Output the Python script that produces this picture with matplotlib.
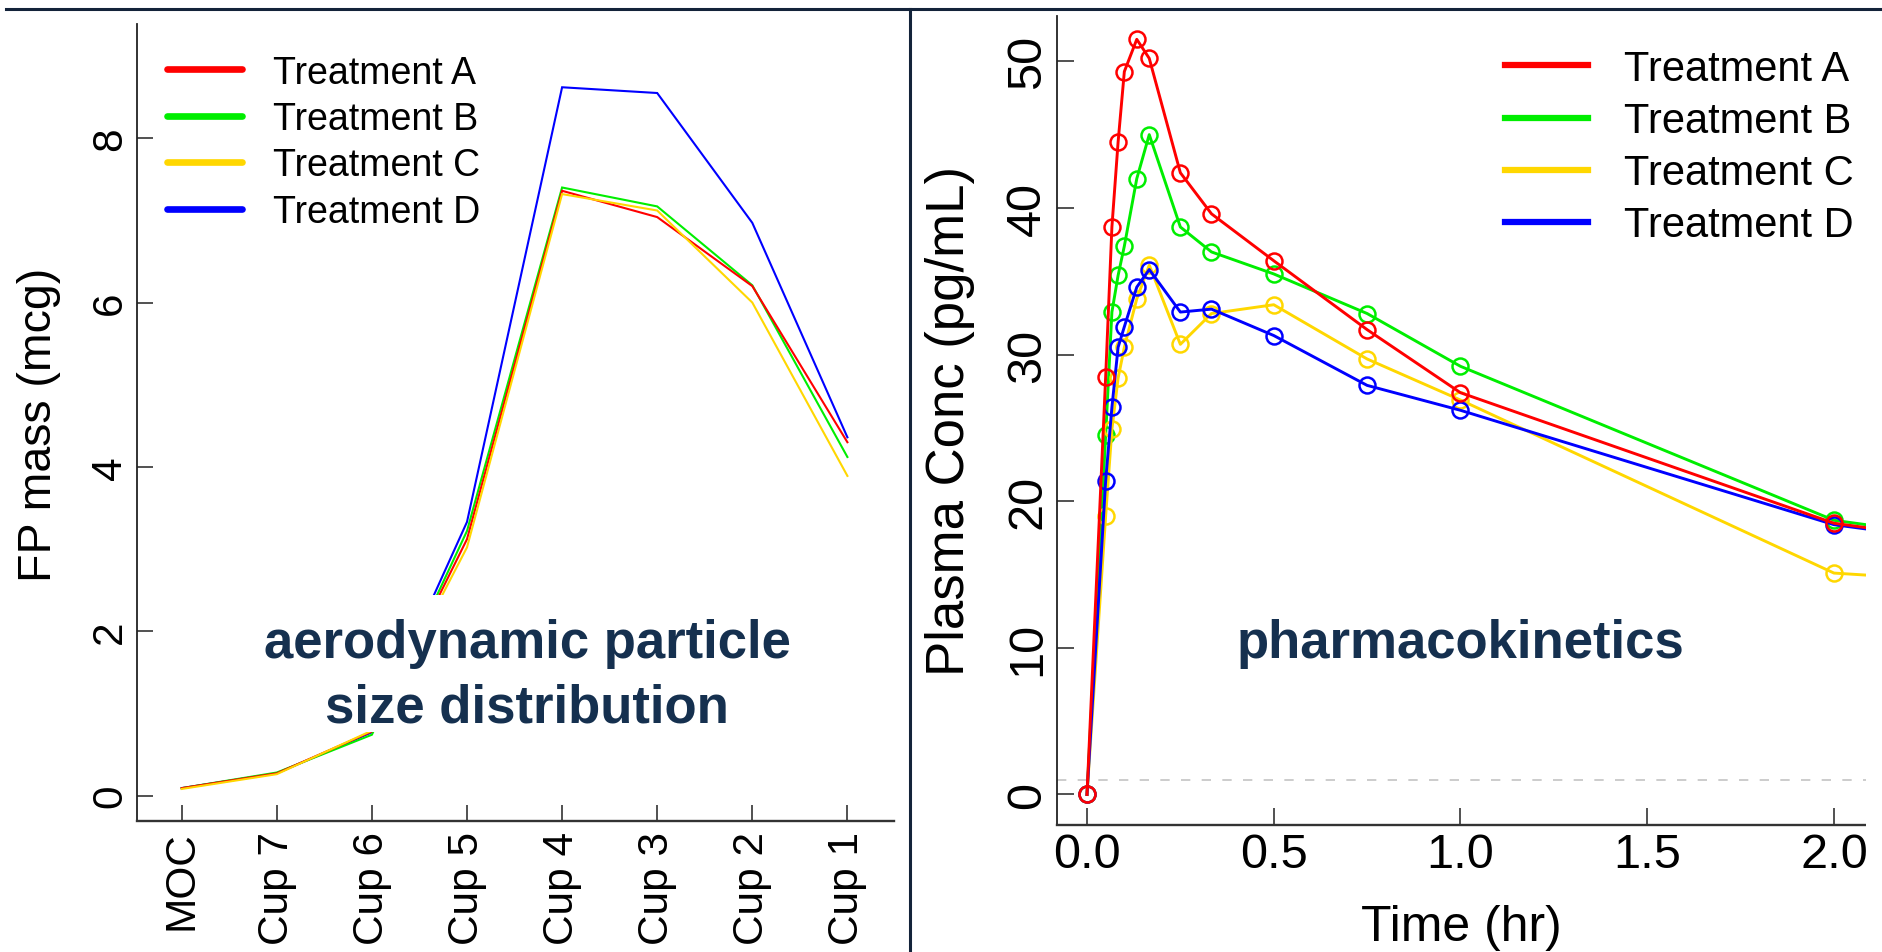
import matplotlib
matplotlib.use("Agg")
import matplotlib.pyplot as plt
from matplotlib.lines import Line2D
from matplotlib.patches import Rectangle

# ---------------- data ----------------
stages = ['MOC', 'Cup 7', 'Cup 6', 'Cup 5', 'Cup 4', 'Cup 3', 'Cup 2', 'Cup 1']
apsd_A = [0.09, 0.27, 0.78, 3.12, 7.36, 7.04, 6.20, 4.30]
apsd_B = [0.09, 0.28, 0.74, 3.22, 7.40, 7.17, 6.21, 4.12]
apsd_C = [0.08, 0.26, 0.79, 3.02, 7.32, 7.12, 6.00, 3.89]
apsd_D = [0.09, 0.27, 0.77, 3.33, 8.62, 8.55, 6.97, 4.36]

time_hr = [0, 0.05, 0.0667, 0.0833, 0.1, 0.1333, 0.1667, 0.25, 0.3333, 0.5, 0.75, 1.0, 2.0, 3.0]
pk_A = [0, 28.5, 38.7, 44.5, 49.3, 51.5, 50.2, 42.4, 39.6, 36.4, 31.7, 27.4, 18.5, 15.0]
pk_B = [0, 24.5, 32.9, 35.4, 37.4, 42.0, 45.0, 38.7, 37.0, 35.5, 32.8, 29.2, 18.7, 15.2]
pk_C = [0, 19.0, 24.9, 28.4, 30.5, 33.8, 36.1, 30.7, 32.8, 33.4, 29.7, 26.9, 15.1, 13.5]
pk_D = [0, 21.4, 26.4, 30.5, 31.9, 34.6, 35.8, 32.9, 33.1, 31.3, 27.9, 26.2, 18.4, 15.0]
lloq = 1.0

labels = ['Treatment A', 'Treatment B', 'Treatment C', 'Treatment D']
colors = {'Treatment A': '#FF0000', 'Treatment B': '#00EE00',
          'Treatment C': '#FFD700', 'Treatment D': '#0000FF'}

x_ticks_pk = [0.0, 0.5, 1.0, 1.5, 2.0]
y_ticks_apsd = [0, 2, 4, 6, 8]
y_ticks_pk = [0, 10, 20, 30, 40, 50]

# ---------------- figure ----------------
W, H = 1883, 953
plt.rcParams['font.family'] = ['Liberation Sans', 'DejaVu Sans']
fig = plt.figure(figsize=(W / 100, H / 100), dpi=100)
fig.patch.set_facecolor('white')


def fbox(x0, y0, x1, y1):
    return [x0 / W, 1 - y1 / H, (x1 - x0) / W, (y1 - y0) / H]


AX_COL = '#222222'
NAVY = '#15304f'


def style_axes(ax, tick_len, lab_size, xpad, ypad):
    for s in ['top', 'right']:
        ax.spines[s].set_visible(False)
    ax.spines['left'].set_color(AX_COL)
    ax.spines['left'].set_linewidth(1.3)
    ax.spines['bottom'].set_color('#333333')
    ax.spines['bottom'].set_linewidth(1.7)
    ax.tick_params(axis='both', direction='in', length=tick_len, width=1.1,
                   color=AX_COL, labelsize=lab_size, labelcolor='black')
    ax.tick_params(axis='x', pad=xpad)
    ax.tick_params(axis='y', pad=ypad, labelrotation=90)
    for lab in ax.get_yticklabels():
        lab.set_va('center')


# ---------------- left panel: APSD ----------------
axL = fig.add_axes(fbox(137, 25, 894, 822))
xs = list(range(len(stages)))
apsd = {'Treatment A': apsd_A, 'Treatment B': apsd_B,
        'Treatment C': apsd_C, 'Treatment D': apsd_D}
for name in ['Treatment D', 'Treatment B', 'Treatment A', 'Treatment C']:
    axL.plot(xs, apsd[name], color=colors[name], lw=1.5, solid_joinstyle='miter')
axL.set_xlim(-0.47, 7.49)
axL.set_ylim(-0.31, 9.39)
axL.set_xticks(xs)
axL.set_xticklabels(stages, rotation=90)
axL.set_yticks(y_ticks_apsd)
axL.set_yticklabels([str(v) for v in y_ticks_apsd])
style_axes(axL, 11.5, 30.5, 7, 5)
for lab in axL.get_xticklabels():
    lab.set_va('top')

handlesL = [Line2D([], [], color=colors[n], lw=4.8, solid_capstyle='round') for n in labels]
fig.legend(handlesL, labels, loc='upper left', bbox_to_anchor=(167 / W, 1 - 55.5 / H),
           frameon=False, fontsize=27, handlelength=2.0, handletextpad=0.83,
           labelspacing=0.28, borderpad=0, borderaxespad=0)

fig.text(39 / W, 1 - 425 / H, 'FP mass (mcg)', rotation=90, ha='center', va='center',
         fontsize=33.5, color='black')

# ---------------- right panel: PK ----------------
axR = fig.add_axes(fbox(1057, 17, 1866, 826))
pk = {'Treatment A': pk_A, 'Treatment B': pk_B, 'Treatment C': pk_C, 'Treatment D': pk_D}
axR.axhline(lloq, color='#c4c4c4', lw=1.2, dashes=(5.6, 6.8), zorder=1)
for name in ['Treatment B', 'Treatment C', 'Treatment D', 'Treatment A']:
    axR.plot(time_hr, pk[name], color=colors[name], lw=2.1, marker='o', ms=11.5,
             mfc='none', mew=1.8, zorder=2)
axR.set_xlim(-0.0803, 2.0857)
axR.set_ylim(-2.08, 53.09)
axR.set_xticks(x_ticks_pk)
axR.set_xticklabels(['%.1f' % v for v in x_ticks_pk])
axR.set_yticks(y_ticks_pk)
axR.set_yticklabels([str(v) for v in y_ticks_pk])
style_axes(axR, 12, 35, 5, 5)

handlesR = [Line2D([], [], color=colors[n], lw=4.5) for n in labels]
fig.legend(handlesR, labels, loc='upper left', bbox_to_anchor=(1505 / W, 1 - 50 / H),
           frameon=False, fontsize=30, handlelength=2.0, handletextpad=0.86,
           labelspacing=0.29, borderpad=0, borderaxespad=0)

fig.text(950 / W, 1 - 421 / H, 'Plasma Conc (pg/mL)', rotation=90, ha='center',
         va='center', fontsize=38, color='black')
fig.text(1461 / W, 1 - 941 / H, 'Time (hr)', ha='center', va='baseline',
         fontsize=36, color='black')

# ---------------- overlay annotations ----------------
fig.add_artist(Rectangle((250 / W, 1 - 733 / H), 550 / W, 137 / H,
                         transform=fig.transFigure, facecolor='white',
                         edgecolor='none', zorder=1))
fig.text(527 / W, 1 - 658 / H, 'aerodynamic particle', ha='center', va='baseline',
         fontsize=38, fontweight='bold', color=NAVY, zorder=4)
fig.text(527 / W, 1 - 723 / H, 'size distribution', ha='center', va='baseline',
         fontsize=38, fontweight='bold', color=NAVY, zorder=4)
fig.text(1460 / W, 1 - 658 / H, 'pharmacokinetics', ha='center', va='baseline',
         fontsize=38, fontweight='bold', color=NAVY, zorder=4)

# crop strip at right edge
fig.add_artist(Rectangle((1866 / W, 0), (W - 1866) / W, 1 - 12 / H,
                         transform=fig.transFigure, facecolor='white',
                         edgecolor='none', zorder=2))

# frame lines
fig.add_artist(Line2D([6 / W, 1], [1 - 9.5 / H, 1 - 9.5 / H], transform=fig.transFigure,
                      color='#13233a', lw=2.2, zorder=5))
fig.add_artist(Line2D([910 / W, 910 / W], [0, 1 - 9.5 / H], transform=fig.transFigure,
                      color='#13233a', lw=2.2, zorder=5))

fig.savefig('out.png', dpi=100, facecolor='white')
